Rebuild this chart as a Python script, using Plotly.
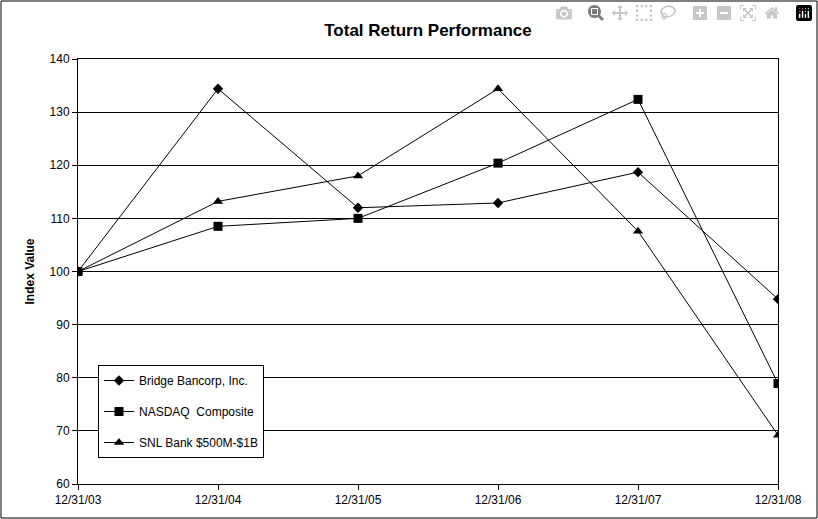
import plotly.graph_objects as go

dates = ["12/31/03", "12/31/04", "12/31/05", "12/31/06", "12/31/07", "12/31/08"]
bridge = [100, 134.4, 112.0, 112.9, 118.7, 94.8]
nasdaq = [100, 108.5, 110.0, 120.4, 132.4, 78.9]
snl = [100, 113.2, 118.0, 134.4, 107.6, 69.2]

x = list(range(len(dates)))
fig = go.Figure()
specs = [("Bridge Bancorp, Inc.", bridge, "diamond", 8),
         ("NASDAQ  Composite", nasdaq, "square", 9),
         ("SNL Bank $500M-$1B", snl, "triangle-up", 9)]
for i, (name, vals, sym, sz) in enumerate(specs):
    fig.add_trace(go.Scatter(x=x, y=vals, name=name, mode="lines+markers",
                             legendgroup=str(i),
                             line=dict(color="black", width=1),
                             marker=dict(symbol=sym, size=sz, color="black")))

W, H = 818, 519
l, r, t, b = 78, 40, 59, 35
pw, ph = W - l - r, H - t - b
fig.update_layout(
    width=W, height=H, margin=dict(l=l, r=r, t=t, b=b),
    paper_bgcolor="white", plot_bgcolor="white",
    font=dict(family="Arial, Liberation Sans", size=12, color="black"),
    title=dict(text="<b>Total Return Performance</b>", x=0.5, xref="paper",
               y=1 - 30 / H, yanchor="middle", font=dict(size=17)),
    xaxis=dict(range=[0, 5], tickvals=x, ticktext=dates, showgrid=False,
               ticks="outside", ticklen=5, tickcolor="black",
               showline=True, linecolor="black", mirror=True, zeroline=False),
    yaxis=dict(range=[60, 140], dtick=10, showgrid=True, gridcolor="black",
               gridwidth=1, ticks="outside", ticklen=5, tickcolor="black",
               showline=True, linecolor="black", mirror=True, zeroline=False,
               title=dict(text="<b>Index Value</b>", font=dict(size=12), standoff=12)),
    legend=dict(x=20 / pw, y=(484 - 365) / ph, xanchor="left", yanchor="top",
                bordercolor="black", borderwidth=1, bgcolor="white",
                tracegroupgap=12, font=dict(size=12),
                entrywidth=250, entrywidthmode="pixels"),
    showlegend=True,
)
fig.add_shape(type="rect", xref="paper", yref="paper",
              x0=-(l - 1) / pw, x1=1 + (r - 1) / pw, y0=-(b - 1) / ph, y1=1 + (t - 1) / ph,
              line=dict(color="black", width=1))
fig.write_html("out.html", post_script="document.body.style.margin='0px';")
